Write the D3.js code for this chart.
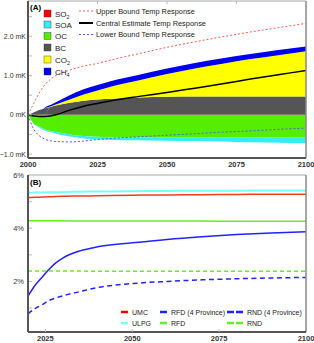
<!DOCTYPE html>
<html>
<head>
<meta charset="utf-8">
<script src="https://cdn.jsdelivr.net/npm/d3@7"></script>
<style>
  body { margin: 0; background: #fff; }
  text { font-family: Arial, "Liberation Sans", sans-serif; }
</style>
</head>
<body>
<script>
    // panel A data (mK), one value per year
    const yearsA = [2000, 2002, 2004, 2006, 2008, 2010, 2015, 2020, 2025, 2030, 2040, 2050, 2060, 2070, 2080, 2090, 2100];
    const bcVals  = [0, 0.06, 0.12, 0.16, 0.2, 0.24, 0.31, 0.36, 0.39, 0.41, 0.44, 0.46, 0.47, 0.47, 0.47, 0.47, 0.47];
    const co2Vals = [0, 0, 0, 0, 0.01, 0.02, 0.08, 0.16, 0.23, 0.31, 0.44, 0.58, 0.71, 0.83, 0.95, 1.05, 1.15];
    const ch4Vals = [0, 0, 0, 0.02, 0.04, 0.06, 0.11, 0.13, 0.14, 0.14, 0.14, 0.14, 0.14, 0.14, 0.13, 0.13, 0.12];
    const ocVals  = [0, -0.22, -0.3, -0.37, -0.41, -0.44, -0.5, -0.54, -0.56, -0.57, -0.57, -0.57, -0.57, -0.57, -0.58, -0.58, -0.58];
    const soaVals = [0, -0.01, -0.02, -0.03, -0.03, -0.04, -0.05, -0.06, -0.07, -0.07, -0.08, -0.09, -0.1, -0.11, -0.12, -0.13, -0.14];
    const so2Vals = [0, 0, 0, 0, 0, 0, 0, 0, 0, 0, 0, 0, 0, 0, 0, 0, 0];
    const upperVals   = [0, 0.28, 0.55, 0.76, 0.9, 1.0, 1.14, 1.24, 1.31, 1.4, 1.56, 1.72, 1.86, 1.99, 2.11, 2.22, 2.33];
    const centralVals = [0, -0.03, -0.04, -0.04, -0.03, 0.0, 0.12, 0.22, 0.29, 0.36, 0.47, 0.57, 0.68, 0.79, 0.91, 1.02, 1.13];
    const lowerVals   = [0, -0.36, -0.53, -0.62, -0.66, -0.68, -0.69, -0.67, -0.63, -0.6, -0.56, -0.52, -0.48, -0.44, -0.41, -0.37, -0.34];
    const tickLabelsA = ['\u22121.0 mK', '0 mK', '1.0 mK', '2.0 mK'];

    // panel B data (%)
    const yearsB = [2020, 2022, 2024, 2026, 2028, 2030, 2035, 2040, 2050, 2060, 2070, 2080, 2090, 2100];
    const umcVals  = [5.15, 5.16, 5.17, 5.18, 5.19, 5.2, 5.21, 5.22, 5.24, 5.25, 5.26, 5.27, 5.28, 5.28];
    const ulpgVals = [5.33, 5.34, 5.34, 5.35, 5.35, 5.36, 5.37, 5.38, 5.39, 5.4, 5.41, 5.41, 5.42, 5.42];
    const rfd4Vals = [1.45, 1.85, 2.15, 2.45, 2.7, 2.88, 3.15, 3.3, 3.45, 3.58, 3.68, 3.76, 3.82, 3.87];
    const rnd4Vals = [0.78, 0.98, 1.12, 1.28, 1.38, 1.46, 1.62, 1.77, 1.92, 2.0, 2.06, 2.1, 2.13, 2.15];
    const rfdVals  = [4.28, 4.28, 4.28, 4.28, 4.28, 4.28, 4.27, 4.27, 4.27, 4.27, 4.27, 4.26, 4.26, 4.26];
    const rndVals  = [2.39, 2.39, 2.39, 2.39, 2.39, 2.39, 2.39, 2.38, 2.38, 2.38, 2.38, 2.38, 2.38, 2.38];
    const tickLabelsB = ['2%', '4%', '6%'];

    const svg = d3.select('body').append('svg')
        .attr('width', 314)
        .attr('height', 343);

    // ---------- panel A ----------
    const xA = d3.scaleLinear().domain([2000, 2100]).range([28, 306]);
    const yA = d3.scaleLinear().domain([-1.1, 2.9]).range([158, 1]);

    let rowsA = yearsA.map((yr, i) => ({
        year: yr, OC: ocVals[i], BC: bcVals[i], SOA: soaVals[i],
        CO2: co2Vals[i], SO2: so2Vals[i], CH4: ch4Vals[i]
    }));
    const colorsA = { SO2: '#ff0000', SOA: '#33eeee', OC: '#55ee00', BC: '#555555', CO2: '#ffff00', CH4: '#0000ee' };

    let stack = d3.stack()
        .keys(['OC', 'BC', 'SOA', 'CO2', 'SO2', 'CH4'])
        .offset(d3.stackOffsetDiverging);
    let layers = stack(rowsA);

    let area = d3.area()
        .x(d => xA(d.data.year))
        .y0(d => yA(d[0]))
        .y1(d => yA(d[1]))
        .curve(d3.curveMonotoneX);

    svg.append('g').selectAll('path')
        .data(layers)
        .enter()
        .append('path')
        .attr('fill', d => colorsA[d.key])
        .attr('d', area);

    function lineA(vals) {
        return d3.line()
            .x((d, i) => xA(yearsA[i]))
            .y(d => yA(d))
            .curve(d3.curveMonotoneX)(vals);
    }
    svg.append('path').attr('d', lineA(upperVals)).attr('fill', 'none')
        .attr('stroke', '#f06050').attr('stroke-width', 1).attr('stroke-dasharray', '2,2');
    svg.append('path').attr('d', lineA(lowerVals)).attr('fill', 'none')
        .attr('stroke', '#5555ff').attr('stroke-width', 1).attr('stroke-dasharray', '2,2');
    svg.append('path').attr('d', lineA(centralVals)).attr('fill', 'none')
        .attr('stroke', '#000').attr('stroke-width', 1.5);

    // frame + axes
    function frame(x0, x1, y0, y1) {
        svg.append('line').attr('x1', x0).attr('x2', x1).attr('y1', y0).attr('y2', y0)
            .attr('stroke', '#aaa').attr('stroke-width', 1);
        svg.append('line').attr('x1', x1).attr('x2', x1).attr('y1', y0).attr('y2', y1)
            .attr('stroke', '#888').attr('stroke-width', 1.5);
        svg.append('line').attr('x1', x0).attr('x2', x0).attr('y1', y0).attr('y2', y1)
            .attr('stroke', '#555').attr('stroke-width', 2);
        svg.append('line').attr('x1', x0).attr('x2', x1).attr('y1', y1).attr('y2', y1)
            .attr('stroke', '#555').attr('stroke-width', 2);
    }
    frame(28, 306, 1, 158);

    // y ticks A
    svg.append('g').selectAll('line')
        .data(d3.range(-1, 3, 0.5))
        .enter().append('line')
        .attr('x1', 29).attr('x2', 32)
        .attr('y1', d => yA(d)).attr('y2', d => yA(d))
        .attr('stroke', '#bbb');
    svg.append('g').selectAll('text')
        .data([-1, 0, 1, 2])
        .enter().append('text')
        .attr('x', 26).attr('y', d => yA(d) + 2.5)
        .attr('text-anchor', 'end')
        .attr('font-size', 7).attr('fill', '#333')
        .text((d, i) => tickLabelsA[i]);

    // x ticks A
    const xticks = [2000, 2025, 2050, 2075, 2100];
    svg.append('g').selectAll('line')
        .data([2025, 2050, 2075])
        .enter().append('line')
        .attr('x1', d => xA(d)).attr('x2', d => xA(d))
        .attr('y1', 1).attr('y2', 4)
        .attr('stroke', '#bbb');
    svg.append('g').selectAll('text')
        .data(xticks)
        .enter().append('text')
        .attr('x', d => xA(d)).attr('y', 167)
        .attr('text-anchor', 'middle')
        .attr('font-size', 7.5).attr('font-weight', 'bold').attr('fill', '#333')
        .text(d => d);

    svg.append('text').attr('x', 30).attr('y', 10)
        .attr('font-size', 8).attr('font-weight', 'bold').text('(A)');

    // legend A (squares)
    const legA = [
        { key: 'SO2', base: 'SO', sub: '2', y: 13.5 },
        { key: 'SOA', base: 'SOA', sub: '', y: 24.5 },
        { key: 'OC', base: 'OC', sub: '', y: 36 },
        { key: 'BC', base: 'BC', sub: '', y: 47.5 },
        { key: 'CO2', base: 'CO', sub: '2', y: 59.5 },
        { key: 'CH4', base: 'CH', sub: '4', y: 71.5 }
    ];
    let la = svg.append('g').selectAll('g').data(legA).enter().append('g');
    la.append('rect')
        .attr('x', 44).attr('y', d => d.y - 3.5)
        .attr('width', 7).attr('height', 7)
        .attr('fill', d => colorsA[d.key])
        .attr('stroke', '#333').attr('stroke-width', 0.4);
    let lt = la.append('text')
        .attr('x', 55).attr('y', d => d.y + 3)
        .attr('font-size', 8).attr('fill', '#222');
    lt.append('tspan').text(d => d.base);
    lt.append('tspan').attr('font-size', 5.5).attr('dy', 2).text(d => d.sub);

    const legLines = [
        { label: 'Upper Bound Temp Response', color: '#f06050', dash: '2,2', w: 1, y: 11 },
        { label: 'Central Estimate Temp Response', color: '#000', dash: null, w: 2, y: 23 },
        { label: 'Lower Bound Temp Response', color: '#5555ff', dash: '2,2', w: 1, y: 34.5 }
    ];
    let ll = svg.append('g').selectAll('g').data(legLines).enter().append('g');
    ll.append('line')
        .attr('x1', 79).attr('x2', 93)
        .attr('y1', d => d.y).attr('y2', d => d.y)
        .attr('stroke', d => d.color).attr('stroke-width', d => d.w)
        .attr('stroke-dasharray', d => d.dash);
    ll.append('text')
        .attr('x', 96).attr('y', d => d.y + 2.5)
        .attr('font-size', 7.4).attr('fill', '#222')
        .text(d => d.label);

    // ---------- panel B ----------
    const xB = d3.scaleLinear().domain([2020, 2100]).range([28, 306]);
    const yB = d3.scaleLinear().domain([0.1, 6]).range([332, 175]);

    function lineB(vals) {
        return d3.line()
            .x((d, i) => xB(yearsB[i]))
            .y(d => yB(d))
            .curve(d3.curveMonotoneX)(vals);
    }
    const seriesB = [
        { vals: ulpgVals, color: '#77ffff', dash: null, w: 2 },
        { vals: umcVals, color: '#f03c1e', dash: null, w: 1.5 },
        { vals: rfdVals, color: '#66ee22', dash: null, w: 1.5 },
        { vals: rndVals, color: '#66ee22', dash: '4,3', w: 1.5 },
        { vals: rfd4Vals, color: '#2222ff', dash: null, w: 1.5 },
        { vals: rnd4Vals, color: '#2222ff', dash: '5,3.5', w: 1.5 }
    ];
    svg.append('g').selectAll('path')
        .data(seriesB)
        .enter().append('path')
        .attr('d', d => lineB(d.vals))
        .attr('fill', 'none')
        .attr('stroke', d => d.color)
        .attr('stroke-width', d => d.w)
        .attr('stroke-dasharray', d => d.dash);

    frame(28, 306, 175, 332);

    svg.append('g').selectAll('line')
        .data([1, 2, 3, 4, 5])
        .enter().append('line')
        .attr('x1', 29).attr('x2', 32)
        .attr('y1', d => yB(d)).attr('y2', d => yB(d))
        .attr('stroke', '#bbb');
    svg.append('g').selectAll('text')
        .data([2, 4, 6])
        .enter().append('text')
        .attr('x', 24).attr('y', d => yB(d) + 2.5)
        .attr('text-anchor', 'end')
        .attr('font-size', 7.5).attr('fill', '#333')
        .text((d, i) => tickLabelsB[i]);

    svg.append('g').selectAll('line')
        .data([2025, 2050, 2075])
        .enter().append('line')
        .attr('x1', d => xB(d)).attr('x2', d => xB(d))
        .attr('y1', 329).attr('y2', 332)
        .attr('stroke', '#bbb');
    svg.append('g').selectAll('text')
        .data([2025, 2050, 2075, 2100])
        .enter().append('text')
        .attr('x', d => xB(d)).attr('y', 341)
        .attr('text-anchor', 'middle')
        .attr('font-size', 7.5).attr('font-weight', 'bold').attr('fill', '#333')
        .text(d => d);

    svg.append('text').attr('x', 30).attr('y', 185)
        .attr('font-size', 8).attr('font-weight', 'bold').text('(B)');

    // legend B
    const legB = [
        { label: 'UMC', color: '#f00000', dash: null, x1: 121, x2: 128, y: 312 },
        { label: 'ULPG', color: '#77ffff', dash: null, x1: 121, x2: 128, y: 323 },
        { label: 'RFD (4 Province)', color: '#2222ff', dash: null, x1: 160, x2: 167, y: 312 },
        { label: 'RFD', color: '#66ee22', dash: null, x1: 160, x2: 167, y: 323 },
        { label: 'RND (4 Province)', color: '#2222ff', dash: '7,2', x1: 227, x2: 243, y: 312 },
        { label: 'RND', color: '#66ee22', dash: '7,2', x1: 227, x2: 243, y: 323 }
    ];
    let lb = svg.append('g').selectAll('g').data(legB).enter().append('g');
    lb.append('line')
        .attr('x1', d => d.x1).attr('x2', d => d.x2)
        .attr('y1', d => d.y).attr('y2', d => d.y)
        .attr('stroke', d => d.color).attr('stroke-width', 2.5)
        .attr('stroke-dasharray', d => d.dash);
    lb.append('text')
        .attr('x', d => d.x2 + 4).attr('y', d => d.y + 2.5)
        .attr('font-size', 7).attr('fill', '#222')
        .text(d => d.label);
</script>
</body>
</html>
